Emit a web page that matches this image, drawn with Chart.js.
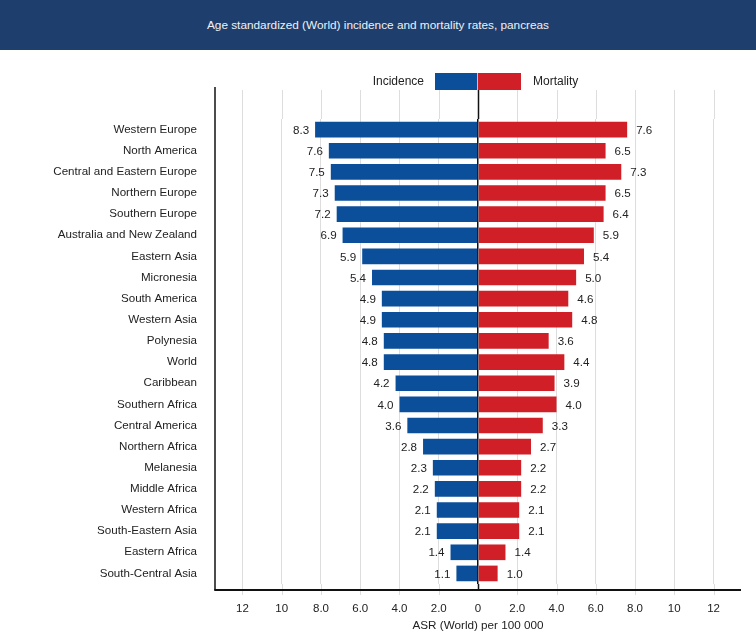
<!DOCTYPE html>
<html>
<head>
<meta charset="utf-8">
<script src="https://cdn.jsdelivr.net/npm/chart.js@4/dist/chart.umd.min.js"></script>
<style>
  body { margin: 0; background: #fff; font-family: "Liberation Sans", Arial, sans-serif; }
  #wrap { position: relative; width: 756px; height: 635px; }
  #banner { position: absolute; left: 0; top: 0; width: 756px; height: 50px; background: #1e3f6d;
            color: #eef1f6; font-size: 11.8px; line-height: 50px; text-align: center; }
  #chartBox { position: absolute; left: 0; top: 0; width: 756px; height: 635px; }
  .leg { position: absolute; font-size: 12px; color: #222; top: 74px; line-height: 15px; }
  .box { position: absolute; top: 73px; height: 17px; }
</style>
</head>
<body>
<div id="wrap">
  <div id="chartBox"><canvas id="pancreas" width="756" height="635"></canvas></div>
  <div id="banner">Age standardized (World) incidence and mortality rates, pancreas</div>
  <div class="leg" style="right: 332px;">Incidence</div>
  <div class="box" style="left: 435px; width: 42px; background: #0b4f9b;"></div>
  <div class="box" style="left: 478px; width: 43px; background: #d01f26;"></div>
  <div class="leg" style="left: 533px;">Mortality</div>
</div>
<script>
var regions = ['Western Europe', 'North America', 'Central and Eastern Europe', 'Northern Europe',
    'Southern Europe', 'Australia and New Zealand', 'Eastern Asia', 'Micronesia', 'South America',
    'Western Asia', 'Polynesia', 'World', 'Caribbean', 'Southern Africa', 'Central America',
    'Northern Africa', 'Melanesia', 'Middle Africa', 'Western Africa', 'South-Eastern Asia',
    'Eastern Africa', 'South-Central Asia'];
var incidence = [8.3, 7.6, 7.5, 7.3, 7.2, 6.9, 5.9, 5.4, 4.9, 4.9, 4.8, 4.8, 4.2, 4.0, 3.6, 2.8, 2.3, 2.2, 2.1, 2.1, 1.4, 1.1];
var mortality = [7.6, 6.5, 7.3, 6.5, 6.4, 5.9, 5.4, 5.0, 4.6, 4.8, 3.6, 4.4, 3.9, 4.0, 3.3, 2.7, 2.2, 2.2, 2.1, 2.1, 1.4, 1.0];
var xTicks = [-12, -10, -8, -6, -4, -2, 0, 2, 4, 6, 8, 10, 12];
var xTickLabels = ['12', '10', '8.0', '6.0', '4.0', '2.0', '0', '2.0', '4.0', '6.0', '8.0', '10', '12'];

var FONT = '"Liberation Sans", Arial, sans-serif';
var LINE_TOP = 87;   // top of the left axis line
var AXIS_GAP = 6;    // bottom axis sits a little below the last row

// value labels next to each bar end
var barLabels = {
    id: 'barLabels',
    afterDatasetsDraw: function (chart) {
        var ctx = chart.ctx;
        ctx.save();
        ctx.font = '11.6px ' + FONT;
        ctx.fillStyle = '#222';
        ctx.textBaseline = 'middle';
        chart.data.datasets.forEach(function (ds, i) {
            chart.getDatasetMeta(i).data.forEach(function (bar, j) {
                var v = Math.abs(ds.data[j]).toFixed(1);
                if (ds.data[j] < 0) {
                    ctx.textAlign = 'right';
                    ctx.fillText(v, bar.x - 6, bar.y + 1);
                } else {
                    ctx.textAlign = 'left';
                    ctx.fillText(v, bar.x + 9, bar.y + 1);
                }
            });
        });
        ctx.restore();
    }
};

// grid and axis lines continue above and below the plot area
var lineExtend = {
    id: 'lineExtend',
    beforeDatasetsDraw: function (chart) {
        var ctx = chart.ctx, x = chart.scales.x, area = chart.chartArea;
        var axisY = area.bottom + AXIS_GAP;
        ctx.save();
        xTicks.forEach(function (v) {
            var px = Math.round(x.getPixelForValue(v)) + 0.5;
            ctx.beginPath();
            ctx.strokeStyle = v === 0 ? '#111' : '#dddddd';
            ctx.lineWidth = v === 0 ? 1.5 : 1;
            ctx.moveTo(px, v === 0 ? 73 : LINE_TOP + 3);
            ctx.lineTo(px, area.top);
            ctx.moveTo(px, area.bottom);
            ctx.lineTo(px, v === 0 ? axisY : axisY + 5);
            ctx.stroke();
        });
        ctx.beginPath();
        ctx.strokeStyle = '#111';
        ctx.lineWidth = 1.5;
        ctx.moveTo(area.left, LINE_TOP);
        ctx.lineTo(area.left, axisY);
        ctx.stroke();
        ctx.beginPath();
        ctx.lineWidth = 2;
        ctx.moveTo(area.left - 0.75, axisY);
        ctx.lineTo(area.right, axisY);
        ctx.stroke();
        ctx.restore();
    }
};

var pancreasChart = new Chart(document.getElementById('pancreas'), {
    type: 'bar',
    data: {
        labels: regions,
        datasets: [
            {
                label: 'Incidence',
                data: incidence.map(function (v) { return -v; }),
                backgroundColor: '#0b4f9b',
                barPercentage: 0.74,
                categoryPercentage: 1
            },
            {
                label: 'Mortality',
                data: mortality,
                backgroundColor: '#d01f26',
                barPercentage: 0.74,
                categoryPercentage: 1
            }
        ]
    },
    options: {
        indexAxis: 'y',
        responsive: false,
        maintainAspectRatio: false,
        animation: false,
        layout: { padding: { top: 119, right: 15, bottom: 0, left: 0 } },
        plugins: {
            legend: { display: false },
            tooltip: { enabled: false }
        },
        scales: {
            x: {
                stacked: true,
                min: -13.4,
                max: 13.4,
                afterBuildTicks: function (s) {
                    s.ticks = xTicks.map(function (v) { return { value: v }; });
                },
                afterFit: function (s) { s.height = 51; },
                ticks: {
                    padding: 18,
                    color: '#222',
                    font: { family: FONT, size: 11.5 },
                    maxRotation: 0,
                    autoSkip: false,
                    callback: function (v, i) { return xTickLabels[i]; }
                },
                grid: {
                    drawTicks: false,
                    color: function (c) { return c.tick && c.tick.value === 0 ? '#111' : '#dddddd'; },
                    lineWidth: function (c) { return c.tick && c.tick.value === 0 ? 1.5 : 1; }
                },
                border: { display: false },
                title: {
                    display: true,
                    text: 'ASR (World) per 100 000',
                    color: '#222',
                    font: { family: FONT, size: 11.7 },
                    padding: { top: 4, bottom: 2 }
                }
            },
            y: {
                stacked: true,
                afterFit: function (s) { s.width = 215; },
                ticks: {
                    padding: 18,
                    color: '#222',
                    font: { family: FONT, size: 11.6 },
                    autoSkip: false
                },
                grid: { display: false, drawTicks: false },
                border: { display: false }
            }
        }
    },
    plugins: [lineExtend, barLabels]
});
</script>
</body>
</html>
